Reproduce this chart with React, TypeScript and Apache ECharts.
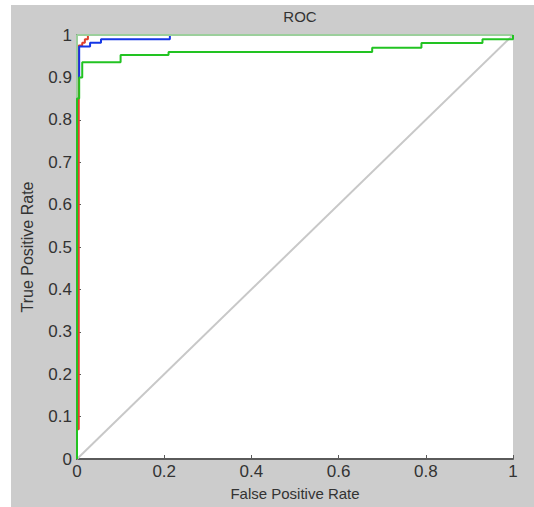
import React, { useEffect, useRef } from "react";
import * as echarts from "echarts";

const xTicks = ["0", "0.2", "0.4", "0.6", "0.8", "1"];
const yTicks = ["0", "0.1", "0.2", "0.3", "0.4", "0.5", "0.6", "0.7", "0.8", "0.9", "1"];

const diagFpr = [0, 1];
const diagTpr = [0, 1];

const perfectFpr = [0, 0, 1];
const perfectTpr = [0, 1, 1];

const greenFpr = [0, 0, 0.005, 0.005, 0.012, 0.012, 0.1, 0.1, 0.21, 0.21, 0.677, 0.677, 0.79, 0.79, 0.93, 0.93, 1, 1];
const greenTpr = [0, 0.85, 0.85, 0.9, 0.9, 0.936, 0.936, 0.953, 0.953, 0.96, 0.96, 0.97, 0.97, 0.981, 0.981, 0.99, 0.99, 1];

const blueFpr = [0, 0, 0.005, 0.005, 0.03, 0.03, 0.055, 0.055, 0.213, 0.213];
const blueTpr = [0, 0.9, 0.9, 0.973, 0.973, 0.982, 0.982, 0.99, 0.99, 1];

const redFpr = [0, 0, 0.004, 0.004, 0.012, 0.012, 0.018, 0.018, 0.025, 0.025];
const redTpr = [0, 0.07, 0.07, 0.975, 0.975, 0.982, 0.982, 0.99, 0.99, 1];

const pairs = (xs: number[], ys: number[]) => xs.map((x, i) => [x, ys[i]]);

export default function App() {
  const ref = useRef<HTMLDivElement>(null);
  useEffect(() => {
    document.body.style.margin = "0";
    const chart = echarts.init(ref.current!, undefined, { renderer: "svg" });
    const font = "'Liberation Sans', Arial, sans-serif";
    const line = (name: string, data: number[][], color: string, z: number, width = 2) => ({
      name,
      type: "line",
      data,
      showSymbol: false,
      symbol: "none",
      lineStyle: { color, width },
      itemStyle: { color },
      z,
      clip: false,
    });
    chart.setOption({
      animation: false,
      backgroundColor: "#ffffff",
      graphic: [
        { type: "rect", shape: { x: 11, y: 5, width: 523, height: 502 }, style: { fill: "#cccccc" }, z: -10, silent: true },
      ],
      title: {
        text: "ROC",
        left: 295,
        textAlign: "center",
        top: 4,
        textStyle: { fontFamily: font, fontSize: 15, fontWeight: "normal", color: "#333333" },
      },
      grid: {
        left: 77,
        top: 35,
        width: 436,
        height: 424,
        show: true,
        backgroundColor: "#ffffff",
        borderWidth: 0,
      },
      xAxis: {
        type: "value",
        min: 0,
        max: 1,
        interval: 0.2,
        name: "False Positive Rate",
        nameLocation: "middle",
        nameGap: 27,
        nameTextStyle: { fontFamily: font, fontSize: 15, color: "#333333" },
        axisLine: { show: true, lineStyle: { color: "#5a5a5a", width: 2 } },
        axisTick: { show: true, inside: true, length: 4, lineStyle: { color: "#5a5a5a" } },
        axisLabel: {
          margin: 4,
          fontFamily: font,
          fontSize: 17,
          color: "#333333",
          formatter: (v: number) => xTicks[Math.round(v / 0.2)] ?? "",
        },
        splitLine: { show: false },
      },
      yAxis: {
        type: "value",
        min: 0,
        max: 1,
        interval: 0.1,
        name: "True Positive Rate",
        nameLocation: "middle",
        nameGap: 42,
        nameTextStyle: { fontFamily: font, fontSize: 16, color: "#333333" },
        axisLine: { show: true, lineStyle: { color: "#5a5a5a", width: 2 } },
        axisTick: { show: true, inside: true, length: 4, lineStyle: { color: "#5a5a5a" } },
        axisLabel: {
          margin: 5,
          fontFamily: font,
          fontSize: 17,
          color: "#333333",
          formatter: (v: number) => yTicks[Math.round(v / 0.1)] ?? "",
        },
        splitLine: { show: false },
      },
      series: [
        line("diagonal", pairs(diagFpr, diagTpr), "#c8c8c8", 1),
        line("red", pairs(redFpr, redTpr), "#e0402a", 2),
        line("blue", pairs(blueFpr, blueTpr), "#1437e6", 3),
        line("perfect", pairs(perfectFpr, perfectTpr), "#9ccf9c", 4),
        line("green", pairs(greenFpr, greenTpr), "#22c322", 5),
      ],
    });
    return () => chart.dispose();
  }, []);
  return <div ref={ref} style={{ width: 534, height: 507 }} />;
}
